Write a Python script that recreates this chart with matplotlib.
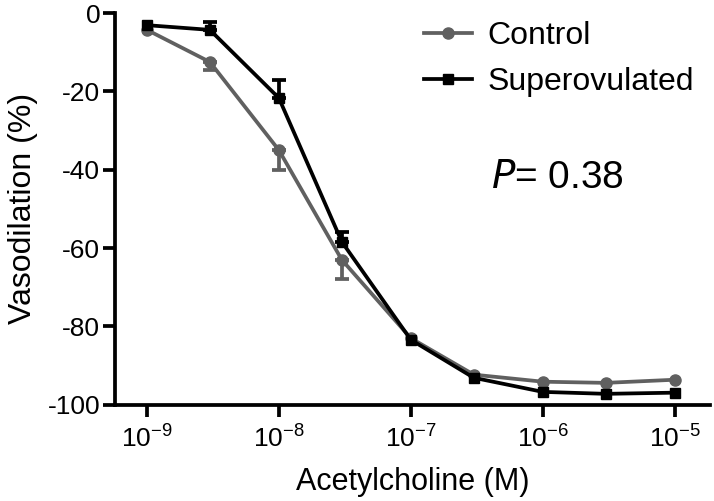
import numpy as np
import matplotlib
matplotlib.use("Agg")
import matplotlib.pyplot as plt

plt.rcParams['font.family'] = ['Liberation Sans', 'DejaVu Sans']
plt.rcParams['axes.unicode_minus'] = False
plt.rcParams['mathtext.fontset'] = 'custom'
plt.rcParams['mathtext.rm'] = 'Liberation Sans'

# acetylcholine concentrations (M)
conc = [1e-9, 3e-9, 1e-8, 3e-8, 1e-7, 3e-7, 1e-6, 3e-6, 1e-5]

control = [-4.3, -12.5, -35.0, -63.0, -83.0, -92.3, -94.1, -94.4, -93.6]
control_err = [0.0, 2.0, 5.0, 5.0, 0.0, 0.0, 0.0, 0.0, 0.0]   # drawn below

superov = [-3.1, -4.3, -21.7, -58.4, -83.4, -93.1, -96.7, -97.2, -96.9]
superov_err = [0.0, 2.0, 4.6, 2.5, 0.0, 0.0, 0.0, 0.0, 0.0]   # drawn above

xticks = [1e-9, 1e-8, 1e-7, 1e-6, 1e-5]
xticklabels = [r'$\mathregular{10^{-9}}$', r'$\mathregular{10^{-8}}$',
               r'$\mathregular{10^{-7}}$', r'$\mathregular{10^{-6}}$',
               r'$\mathregular{10^{-5}}$']
yticks = [0, -20, -40, -60, -80, -100]

gray = '#606060'
lw = 2.7

fig = plt.figure(figsize=(7.14, 5.01), dpi=100)
ax = fig.add_axes([0.161, 0.192, 0.833, 0.782])

x = np.array(conc)
yc, ec = np.array(control), np.array(control_err)
ys, es = np.array(superov), np.array(superov_err)

m = ec > 0
ax.errorbar(x[m], yc[m], yerr=[ec[m], np.zeros(m.sum())], fmt='none',
            ecolor=gray, elinewidth=lw, capsize=5, capthick=lw, zorder=2)
ax.plot(x, yc, '-o', color=gray, lw=lw, ms=8, label='Control', zorder=3)

m = es > 0
ax.errorbar(x[m], ys[m], yerr=[np.zeros(m.sum()), es[m]], fmt='none',
            ecolor='black', elinewidth=lw, capsize=5, capthick=lw, zorder=4)
ax.plot(x, ys, '-s', color='black', lw=lw, ms=7.5, label='Superovulated', zorder=5)

ax.set_xscale('log')
ax.set_xlim(1e-9 * 10 ** (-32 / 132), 1e-5 * 10 ** (35 / 132))
ax.set_ylim(-100, 0)
ax.set_xticks(xticks)
ax.set_xticklabels(xticklabels)
ax.minorticks_off()
ax.set_yticks(yticks)
ax.set_yticklabels([str(v) for v in yticks])

for s in ['top', 'right']:
    ax.spines[s].set_visible(False)
for s in ['left', 'bottom']:
    ax.spines[s].set_linewidth(lw)
ax.tick_params(width=lw, length=8.5, labelsize=19)
ax.tick_params(axis='y', pad=2)
ax.tick_params(axis='x', pad=6.5)

ax.set_xlabel('Acetylcholine (M)', fontsize=22, labelpad=10)
ax.set_ylabel('Vasodilation (%)', fontsize=23, labelpad=7)

ax.legend(loc='upper left', bbox_to_anchor=(0.553, 1.015), bbox_transform=fig.transFigure,
          frameon=False, fontsize=23, handlelength=1.5, handletextpad=0.5,
          labelspacing=0.5)

fig.text(0.688, 0.645, r'$\it{P}$= 0.38', fontsize=28, va='center', ha='left')

fig.savefig('out.png', dpi=100)
